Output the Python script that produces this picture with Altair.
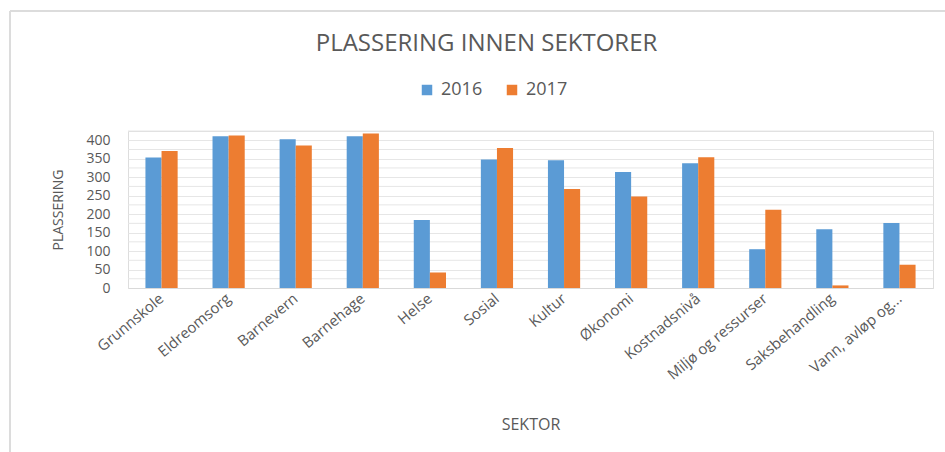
import altair as alt
import pandas as pd

sectors = ["Grunnskole", "Eldreomsorg", "Barnevern", "Barnehage", "Helse", "Sosial",
           "Kultur", "Økonomi", "Kostnadsnivå", "Miljø og ressurser", "Saksbehandling",
           "Vann, avløp og..."]
years = ["2016", "2017"]
values_2016 = [353, 411, 403, 411, 184, 348, 346, 314, 338, 105, 159, 176]
values_2017 = [371, 413, 386, 418, 42, 379, 268, 248, 354, 212, 7, 63]
y_labels = list(range(0, 401, 50))
grid_values = list(range(25, 426, 50))

rows = []
for s, a, b in zip(sectors, values_2016, values_2017):
    rows.append({"SEKTOR": s, "År": "2016", "PLASSERING": a})
    rows.append({"SEKTOR": s, "År": "2017", "PLASSERING": b})
df = pd.DataFrame(rows)

FONT = "Open Sans"
GREY = "#595959"
yscale = alt.Scale(domain=[0, 425], nice=False)
yaxis = alt.Axis(title="PLASSERING", values=y_labels,
                 labelFontSize=14, labelColor=GREY, labelFont=FONT,
                 ticks=False, domain=False, gridColor="#e6e6e6",
                 titleFont=FONT, titleFontSize=14, titleColor=GREY,
                 titleFontWeight="normal", titlePadding=20, labelPadding=18)

minor_grid = alt.Chart(pd.DataFrame({"v": grid_values})).mark_rule(
    color="#e6e6e6", strokeWidth=1
).encode(y=alt.Y("v:Q", scale=yscale, axis=yaxis))

bars = alt.Chart(df).mark_bar().encode(
    x=alt.X("SEKTOR:N", sort=sectors,
            scale=alt.Scale(paddingInner=0.52, paddingOuter=0.26),
            axis=alt.Axis(title="SEKTOR", labelAngle=-40, labelAlign="right",
                          labelBaseline="middle", labelFontSize=15, labelColor=GREY,
                          labelFont=FONT, ticks=False, domainColor="#d9d9d9",
                          titleFont=FONT, titleFontSize=16, titleColor=GREY,
                          titleFontWeight="normal", titlePadding=34, labelPadding=8)),
    xOffset=alt.XOffset("År:N", sort=years, scale=alt.Scale(paddingInner=0, paddingOuter=0)),
    y=alt.Y("PLASSERING:Q", scale=yscale, axis=yaxis),
    color=alt.Color("År:N", sort=years,
                    scale=alt.Scale(domain=years, range=["#5B9BD5", "#ED7D31"]),
                    legend=alt.Legend(title=None, orient="none", direction="horizontal",
                                      legendX=290, legendY=-50, symbolType="square",
                                      symbolSize=110, symbolStrokeWidth=0,
                                      labelFontSize=18, labelColor=GREY, labelFont=FONT,
                                      columnPadding=20, labelOffset=5)),
)

frame = alt.Chart(pd.DataFrame({"k": [0]})).mark_rule(color="#dcdcdc", strokeWidth=2).encode(
    x=alt.value(-118), x2=alt.value(820), y=alt.value(-120)
)
frame_left = alt.Chart(pd.DataFrame({"k": [0]})).mark_rule(color="#dcdcdc", strokeWidth=2).encode(
    x=alt.value(-118), y=alt.value(-120), y2=alt.value(330)
)

chart = alt.layer(frame, frame_left, minor_grid, bars).properties(
    width=805, height=157,
    autosize=alt.AutoSizeParams(type="none"),
    padding={"left": 128, "top": 131, "right": 12, "bottom": 164},
    title=alt.TitleParams("PLASSERING INNEN SEKTORER", font=FONT, fontSize=24,
                          fontWeight="normal", color=GREY, anchor="middle",
                          dx=-44, offset=-46),
).configure_view(stroke=None).configure(background="white")

chart.save("out.html", embed_options={"renderer": "svg", "actions": False})
